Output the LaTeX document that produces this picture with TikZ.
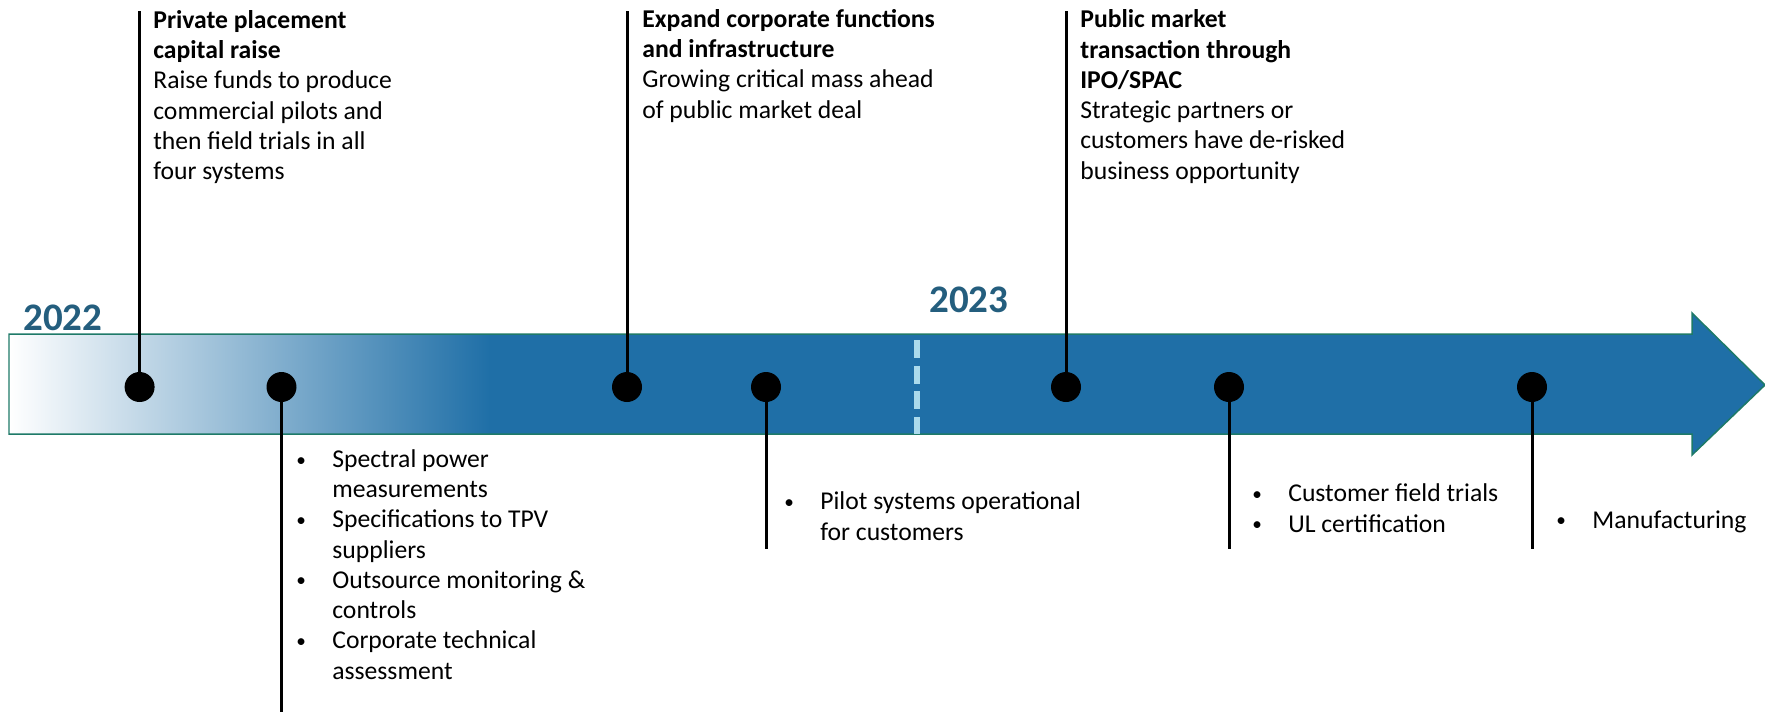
\documentclass[tikz,border=0pt]{standalone}
\usepackage{fontspec}
\setmainfont{Carlito}

\definecolor{tlblue}{RGB}{31,111,167}
\definecolor{tledge}{RGB}{30,122,104}
\definecolor{tlyear}{RGB}{36,94,126}
\definecolor{tldash}{RGB}{170,218,236}

\newcommand{\tlbul}{\makebox[0.76cm][l]{\hspace*{0.04cm}\raisebox{0.12ex}{\scalebox{0.75}{\textbullet}}}}
\newcommand{\tlgap}{\hspace*{0.76cm}}

\begin{document}
\begin{tikzpicture}[
    x=0.02cm, y=-0.02cm,
    font=\fontsize{14.6}{17.2}\selectfont,
    % Styles
    milestone/.style={circle, fill=black, inner sep=0pt, minimum size=0.6cm},
    stem/.style={draw=black, line width=0.06cm},
    % labels are placed at the baseline of their LAST line
    toplabel/.style={anchor=base west, align=left, inner sep=0pt},
    bulletlabel/.style={anchor=base west, align=left, inner sep=0pt},
    yearlabel/.style={anchor=base west, inner sep=0pt,
        font=\fontsize{22.2}{26}\selectfont\bfseries, text=tlyear},
]
\useasboundingbox (0,0) rectangle (1765,711);

%--- Timeline arrow ---%
\fill[tlblue] (9,334) -- (1692,334) -- (1692,313) -- (1765,385)
    -- (1692,455) -- (1692,434) -- (9,434) -- cycle;
\shade[left color=white, right color=tlblue] (9,334) rectangle (490,434);
\draw[tledge, line width=0.03cm] (9,334) -- (1692,334) -- (1692,313) -- (1765,385)
    -- (1692,455) -- (1692,434) -- (9,434) -- cycle;

%--- Years ---%
\draw[tldash, line width=0.12cm, dash pattern=on 0.366cm off 0.146cm] (917,340) -- (917,434);
\node[yearlabel] (y22) at (23,330) {2022};
\node[yearlabel] (y23) at (929,312) {2023};

%--- Milestone dots ---
\node[milestone] (m1) at (139.6,387) {};
\node[milestone] (m2) at (281.5,387) {};
\node[milestone] (m3) at (627,387) {};
\node[milestone] (m4) at (766,387) {};
\node[milestone] (m5) at (1066,387) {};
\node[milestone] (m6) at (1229,387) {};
\node[milestone] (m7) at (1532,387) {};

%--- Stems ---
% top: m1, m3, m5 / bottom: m2 (to page foot), m4, m6, m7
\coordinate (s1) at (139.6,11);
\coordinate (s3) at (627,11);
\coordinate (s5) at (1066,11);
\coordinate (s2) at (281.5,712);
\coordinate (s4) at (766,549);
\coordinate (s6) at (1229,549);
\coordinate (s7) at (1532,549);
\foreach \i in {1,...,7} {\draw[stem] (m\i) -- (s\i);}

%--- Labels above ---
% line pitch 30.3
\node[toplabel] (t1) at (153,179.5) {\textbf{Private placement}\\\textbf{capital raise}\\
    Raise funds to produce\\commercial pilots and\\then field trials in all\\four systems};
\node[toplabel] (t3) at (642,118) {\textbf{Expand corporate functions}\\\textbf{and infrastructure}\\
    Growing critical mass ahead\\of public market deal};
\node[toplabel] (t5) at (1080,179) {\textbf{Public market}\\\textbf{transaction through}\\\textbf{IPO/SPAC}\\
    Strategic partners or\\customers have de-risked\\business opportunity};

%--- Labels below ---
\node[bulletlabel] (b2) at (294,679) {\tlbul Spectral power\\\tlgap measurements\\
    \tlbul Specifications to TPV\\\tlgap suppliers\\
    \tlbul Outsource monitoring \&\\\tlgap controls\\
    \tlbul Corporate technical\\\tlgap assessment};
\node[bulletlabel] (b4) at (782,540) {\tlbul Pilot systems operational\\\tlgap for customers};
\node[bulletlabel] (b6) at (1250,532) {\tlbul Customer field trials\\\tlbul UL certification};
\node[bulletlabel] (b7) at (1554,528) {\tlbul Manufacturing};

\end{tikzpicture}
\end{document}
